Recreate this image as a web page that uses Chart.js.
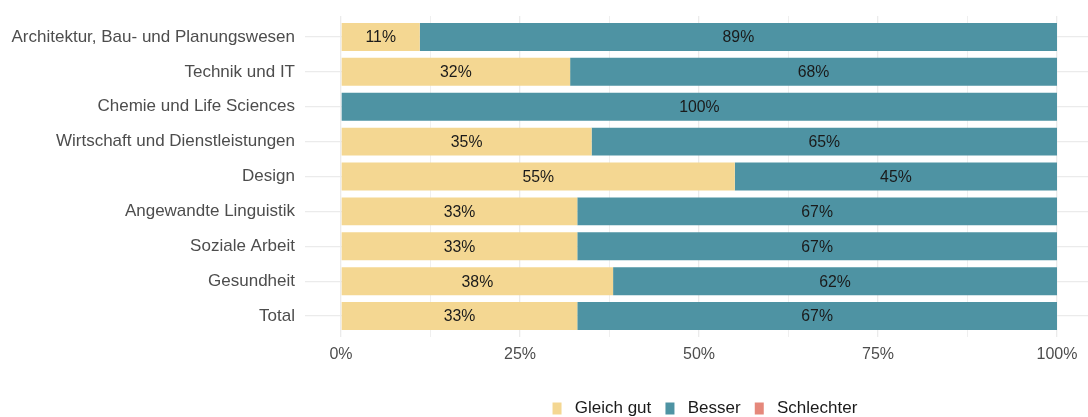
<!DOCTYPE html>
<html><head><meta charset="utf-8">
<script src="https://cdn.jsdelivr.net/npm/chart.js@4"></script>
<style>html,body{margin:0;padding:0;background:#fff}#wrap{width:1088px;height:417px}</style>
</head><body><div id="wrap"><canvas id="c" width="1088" height="417"></canvas></div>
<script>
const categories = ["Architektur, Bau- und Planungswesen","Technik und IT","Chemie und Life Sciences","Wirtschaft und Dienstleistungen","Design","Angewandte Linguistik","Soziale Arbeit","Gesundheit","Total"];
const gleichGut = [11, 32, 0, 35, 55, 33, 33, 38, 33];
const besser = [89, 68, 100, 65, 45, 67, 67, 62, 67];
const schlechter = [0, 0, 0, 0, 0, 0, 0, 0, 0];
const seriesNames = ["Gleich gut", "Besser", "Schlechter"];
const xTickValues = [0, 12.5, 25, 37.5, 50, 62.5, 75, 87.5, 100];

const toPts = arr => arr.map((v, i) => ({x: v, y: i}));
const FONT = "'Liberation Sans', Arial, sans-serif";

const labelPlugin = {
  id: 'barLabels',
  afterDatasetsDraw(chart) {
    const ctx = chart.ctx;
    ctx.save();
    ctx.font = "15.8px " + FONT;
    ctx.fillStyle = "#1a1a1a";
    ctx.textAlign = "center";
    ctx.textBaseline = "middle";
    chart.data.datasets.forEach((ds, di) => {
      const meta = chart.getDatasetMeta(di);
      meta.data.forEach((bar, i) => {
        const v = ds.data[i].x;
        if (!v) return;
        const cx = (bar.x + bar.base) / 2;
        ctx.fillText(v + "%", cx, bar.y + 1);
      });
    });
    ctx.restore();
  }
};

const legendShift = {
  id: 'legendShift',
  afterLayout(chart) {
    const lg = chart.legend;
    if (!lg) return;
    lg.left = 336; lg.right = 1088;
    lg.top += 10; lg.bottom += 10;
  }
};

new Chart(document.getElementById('c'), {
  type: 'bar',
  data: {
    datasets: [
      {label: seriesNames[0], data: toPts(gleichGut), backgroundColor: '#F4D792'},
      {label: seriesNames[1], data: toPts(besser), backgroundColor: '#4E93A3'},
      {label: seriesNames[2], data: toPts(schlechter), backgroundColor: '#E5887B'}
    ]
  },
  options: {
    indexAxis: 'y',
    responsive: false,
    animation: false,
    layout: {padding: {top: 16, right: 0, left: 0, bottom: 0}},
    datasets: {bar: {barPercentage: 0.8, categoryPercentage: 1.0, borderWidth: 0}},
    scales: {
      x: {
        type: 'linear', stacked: true, min: -5.03, max: 104.33,
        afterBuildTicks: s => { s.ticks = xTickValues.map(v => ({value: v})); },
        afterFit: s => { s.height = 53; },
        grid: {color: '#ebebeb', lineWidth: ctx => (ctx.tick && ctx.tick.value % 25 === 0) ? 1.3 : 0.8, drawTicks: false},
        border: {display: false},
        ticks: {
          font: {family: FONT, size: 16}, color: '#4d4d4d', padding: 8, maxRotation: 0, autoSkip: false,
          callback: v => (v % 25 === 0) ? v + '%' : ''
        }
      },
      y: {
        type: 'linear', stacked: true, min: -0.6, max: 8.6, reverse: true, offset: false,
        afterBuildTicks: s => { s.ticks = categories.map((c, i) => ({value: i})); },
        afterFit: s => { s.width = 305; s.paddingTop = 0; s.paddingBottom = 0; },
        grid: {color: '#ebebeb', lineWidth: 1.3, drawTicks: false, offset: false},
        border: {display: false},
        ticks: {
          font: {family: FONT, size: 17}, color: '#4d4d4d', padding: 10, autoSkip: false,
          callback: v => categories[v] || ''
        }
      }
    },
    plugins: {
      tooltip: {enabled: false},
      legend: {
        position: 'bottom',
        labels: {
          font: {family: FONT, size: 17}, color: '#1a1a1a', boxWidth: 9, boxHeight: 12, padding: 0,
          generateLabels: chart => chart.data.datasets.map((ds, i) => ({
            text: ' ' + ds.label + '   ', fillStyle: ds.backgroundColor, strokeStyle: ds.backgroundColor,
            lineWidth: 0, hidden: false, datasetIndex: i, fontColor: '#1a1a1a'
          }))
        }
      }
    }
  },
  plugins: [labelPlugin, legendShift]
});
</script></body></html>
